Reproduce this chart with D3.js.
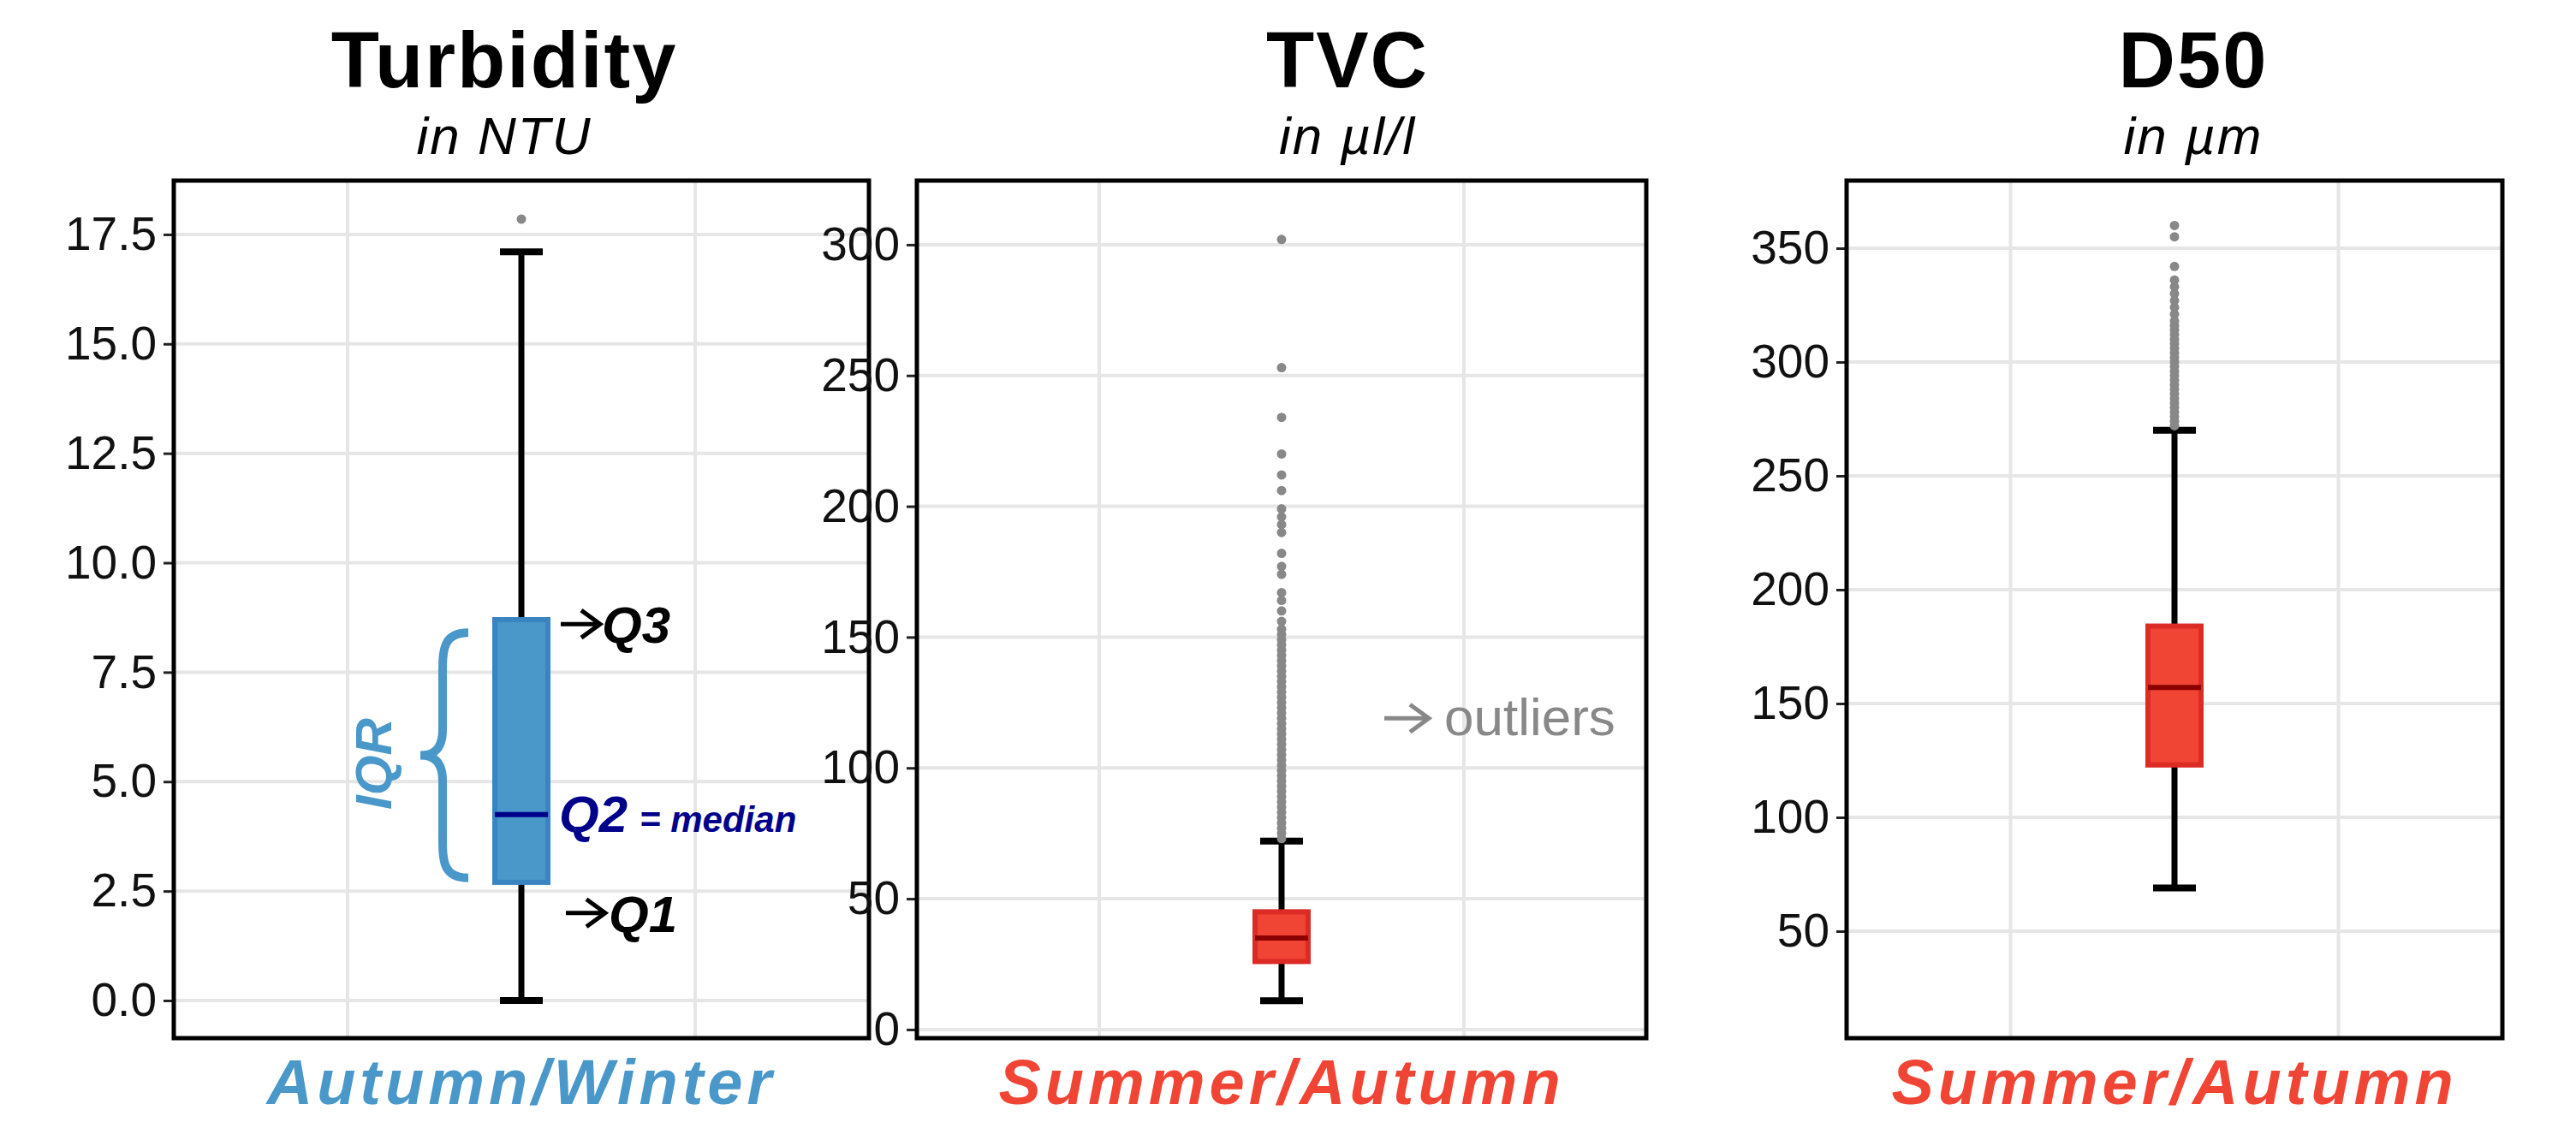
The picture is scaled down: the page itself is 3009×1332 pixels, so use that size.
<!DOCTYPE html>
<html><head><meta charset="utf-8">
<script src="https://cdn.jsdelivr.net/npm/d3@7"></script>
<style>body{margin:0;background:#fff}svg{display:block}text{font-family:"Liberation Sans",Arial,sans-serif}</style>
</head><body><svg id="c" width="3009" height="1332"></svg>
<script>
const titles = ["Turbidity","TVC","D50"];
const units = ["in NTU","in µl/l","in µm"];
const seasons = ["Autumn/Winter","Summer/Autumn","Summer/Autumn"];
const turbStats = [0, 2.7, 4.25, 8.7, 17.1];
const tvcStats = [11, 26, 35, 45, 72];
const d50Stats = [69, 123, 157, 184, 270];
const turbOut = [17.85];
const tvcOut = [302,253,234,220,212,206,199,196,193,190,182,177,174,167,164,160,156,153,151,149,147,145,143,141,139,137,135,133,131,129,127,125,123,121,119,117,115,113,111,109,107,105,103,101,99,97,95,93,91,89,87,85,83,81,79,77,75,73];
const d50Out = [360,355,342,336,333,330,327,324,321,318,316,314,312,310,308,306,304,302,300,298,296,294,292,290,288,286,284,282,280,278,276,274,272];
const turbTicks = [0,2.5,5,7.5,10,12.5,15,17.5];
const tvcTicks = [0,50,100,150,200,250,300];
const d50Ticks = [50,100,150,200,250,300,350];

const panels = [
 {x0:203,x1:1015,dom:[-0.86,18.73],stats:turbStats,out:turbOut,ticks:turbTicks,fmt:d3.format(".1f"),fill:"#4a97c9",stroke:"#3a84c2",med:"#00008b",lab:"#4a97c9",tx:589},
 {x0:1071,x1:1923,dom:[-3.3,324.5],stats:tvcStats,out:tvcOut,ticks:tvcTicks,fmt:d3.format("d"),fill:"#f04535",stroke:"#dc2a25",med:"#8b0000",lab:"#f04535",tx:1574},
 {x0:2157,x1:2923,dom:[3,379.7],stats:d50Stats,out:d50Out,ticks:d50Ticks,fmt:d3.format("d"),fill:"#f04535",stroke:"#dc2a25",med:"#8b0000",lab:"#f04535",tx:2562}
];
const yTop=211, yBot=1213;
const svg=d3.select("#c");
panels.forEach((p,i)=>{
  const y=d3.scaleLinear().domain(p.dom).range([yBot,yTop]);
  const x=d3.scaleLinear().domain([0,1]).range([p.x0,p.x1]);
  const g=svg.append("g");
  g.selectAll(".gy").data(p.ticks).join("line").attr("x1",p.x0).attr("x2",p.x1)
    .attr("y1",d=>y(d)).attr("y2",d=>y(d)).attr("stroke","#e6e6e6").attr("stroke-width",4);
  g.selectAll(".gx").data([0.25,0.75]).join("line").attr("x1",d=>x(d)).attr("x2",d=>x(d))
    .attr("y1",yTop).attr("y2",yBot).attr("stroke","#e6e6e6").attr("stroke-width",4);
  const ax=g.append("g").attr("transform",`translate(${p.x0},0)`)
    .call(d3.axisLeft(y).tickValues(p.ticks).tickFormat(p.fmt).tickSize(12).tickPadding(8));
  ax.select(".domain").remove();
  ax.selectAll("line").attr("stroke","#222").attr("stroke-width",3);
  ax.selectAll("text").attr("font-size",55).attr("fill","#111");
  const cx=x(0.5), bw=62, cw=50;
  const [mn,q1,md,q3,mx]=p.stats;
  g.append("line").attr("x1",cx).attr("x2",cx).attr("y1",y(mn)).attr("y2",y(mx)).attr("stroke","#000").attr("stroke-width",7);
  [mn,mx].forEach(v=>g.append("line").attr("x1",cx-cw/2).attr("x2",cx+cw/2).attr("y1",y(v)).attr("y2",y(v)).attr("stroke","#000").attr("stroke-width",8));
  g.append("rect").attr("x",cx-bw/2).attr("width",bw).attr("y",y(q3)).attr("height",y(q1)-y(q3))
    .attr("fill",p.fill).attr("stroke",p.stroke).attr("stroke-width",6);
  g.append("line").attr("x1",cx-bw/2).attr("x2",cx+bw/2).attr("y1",y(md)).attr("y2",y(md)).attr("stroke",p.med).attr("stroke-width",6);
  g.selectAll(".o").data(p.out).join("circle").attr("cx",cx).attr("cy",d=>y(d)).attr("r",5.5).attr("fill","#888");
  g.append("rect").attr("x",p.x0).attr("y",yTop).attr("width",p.x1-p.x0).attr("height",yBot-yTop).attr("fill","none").attr("stroke","#000").attr("stroke-width",5);
  svg.append("text").attr("x",p.tx).attr("y",102).attr("text-anchor","middle").attr("font-size",92).attr("font-weight","bold").attr("letter-spacing",2).text(titles[i]);
  svg.append("text").attr("x",p.tx).attr("y",180).attr("text-anchor","middle").attr("font-size",62).attr("font-style","italic").attr("letter-spacing",2).text(units[i]);
  svg.append("text").attr("x",cx).attr("y",1290).attr("text-anchor","middle").attr("font-size",74).attr("font-weight","bold").attr("font-style","italic").attr("letter-spacing",5).attr("fill",p.lab).text(seasons[i]);
  p.y=y; p.cx=cx;
});
const p1=panels[0], y1=p1.y;
const arrow=(g,xs,yv,col,len)=>{g.append("path").attr("d",`M${xs},${yv}h${len}M${xs+len-22},${yv-16}L${xs+len},${yv}L${xs+len-22},${yv+16}`).attr("stroke",col).attr("stroke-width",5).attr("fill","none");};
arrow(svg,p1.cx+46,y1(8.6),"#000",46);
svg.append("text").attr("x",p1.cx+94).attr("y",y1(8.6)+22).attr("font-size",60).attr("font-weight","bold").attr("font-style","italic").text("Q3");
arrow(svg,p1.cx+52,y1(2.0),"#000",46);
svg.append("text").attr("x",p1.cx+102).attr("y",y1(2.0)+22).attr("font-size",60).attr("font-weight","bold").attr("font-style","italic").text("Q1");
const q2=svg.append("text").attr("x",p1.cx+44).attr("y",y1(4.25)+20).attr("fill","#00008b").attr("font-weight","bold").attr("font-style","italic");
q2.append("tspan").attr("font-size",60).text("Q2");
q2.append("tspan").attr("font-size",42).attr("dx",14).text("= median");
const bx=p1.cx-62, bt=y1(8.4), bb=y1(2.8), bm=(bt+bb)/2;
svg.append("path").attr("d",`M${bx},${bt} C${bx-30},${bt} ${bx-30},${bt+20} ${bx-30},${bt+50} L${bx-30},${bm-30} C${bx-30},${bm-8} ${bx-40},${bm} ${bx-56},${bm} C${bx-40},${bm} ${bx-30},${bm+8} ${bx-30},${bm+30} L${bx-30},${bb-50} C${bx-30},${bb-20} ${bx-30},${bb} ${bx},${bb}`)
 .attr("stroke","#4a97c9").attr("stroke-width",10).attr("fill","none");
svg.append("text").attr("transform",`translate(${bx-90},${bm+10}) rotate(-90)`).attr("text-anchor","middle").attr("font-size",60).attr("font-weight","bold").attr("font-style","italic").attr("fill","#4a97c9").text("IQR");
const p2=panels[1];
arrow(svg,p2.cx+120,p2.y(119),"#888",52);
svg.append("text").attr("x",p2.cx+190).attr("y",p2.y(119)+20).attr("font-size",62).attr("fill","#888").text("outliers");
</script></body></html>
